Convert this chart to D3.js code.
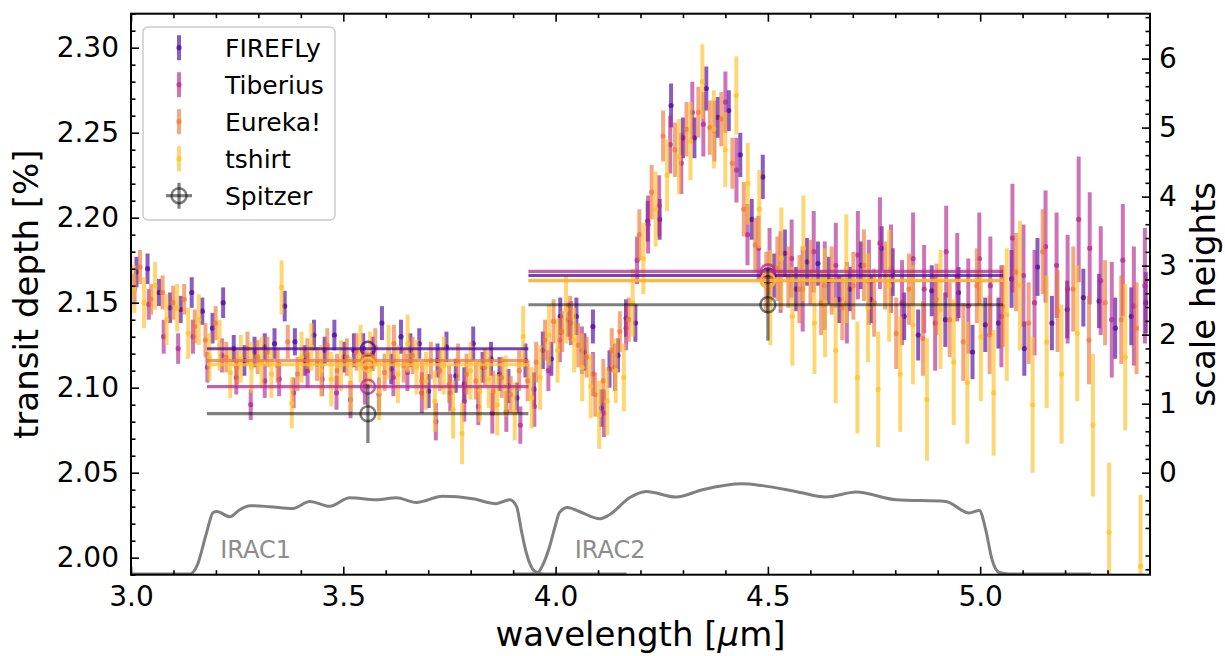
<!DOCTYPE html>
<html><head><meta charset="utf-8">
<script src="https://cdn.jsdelivr.net/npm/d3@7"></script>
<style>body{margin:0;background:#fff} svg{display:block} text{font-family:"DejaVu Sans",sans-serif}</style>
</head><body><svg id="c" width="1225" height="656"></svg>
<script>
// ---------------- DATA ----------------
const seriesNames = ["FIREFLy","Tiberius","Eureka!","tshirt"];
const seriesColors = ["#4c06a0","#b12a90","#f0783c","#fdc22a"];

// FIREFLy
const wlF = [3.013,3.039,3.066,3.092,3.117,3.143,3.168,3.192,3.217,3.242,
3.267,3.291,3.315,3.338,3.362,3.386,3.409,3.431,3.456,3.479,
3.502,3.525,3.547,3.569,3.591,3.613,3.636,3.658,3.679,3.701,
3.722,3.743,3.765,3.785,3.806,3.828,3.848,3.868,3.889,3.909,
3.929,3.949,3.970,3.990,4.011,4.030,4.049,4.068,4.088,4.108,
4.127,4.147,4.166,4.188,4.217,4.245,4.272,4.300,4.327,4.355,
4.382,4.408,4.435,4.462,4.488,4.515,4.540,4.566,4.592,4.618,
4.643,4.668,4.693,4.719,4.743,4.768,4.794,4.821,4.854,4.886,
4.918,4.949,4.982,5.012,5.043,5.074,5.104,5.135,5.169,5.205,
5.243,5.280,5.318,5.356,5.390];
const dF = [2.168,2.170,2.156,2.147,2.146,2.156,2.145,2.135,2.150,2.123,
2.116,2.121,2.124,2.126,2.148,2.127,2.116,2.131,2.122,2.131,
2.118,2.122,2.123,2.120,2.138,2.111,2.130,2.122,2.126,2.098,
2.116,2.124,2.107,2.102,2.126,2.112,2.117,2.108,2.101,2.094,
2.116,2.099,2.122,2.117,2.142,2.140,2.142,2.121,2.136,2.088,
2.111,2.119,2.141,2.138,2.198,2.199,2.266,2.247,2.247,2.276,
2.259,2.263,2.237,2.199,2.224,2.166,2.179,2.158,2.174,2.173,
2.163,2.152,2.158,2.172,2.152,2.182,2.168,2.142,2.131,2.157,
2.140,2.156,2.121,2.137,2.138,2.164,2.123,2.171,2.138,2.146,
2.153,2.151,2.135,2.142,2.150];
const eF = [0.009,0.009,0.008,0.009,0.008,0.009,0.008,0.009,0.009,0.008,
0.009,0.009,0.008,0.009,0.009,0.008,0.009,0.009,0.008,0.009,
0.009,0.010,0.009,0.010,0.010,0.009,0.010,0.010,0.009,0.010,
0.010,0.009,0.010,0.010,0.010,0.009,0.010,0.010,0.010,0.009,
0.010,0.010,0.011,0.010,0.011,0.010,0.011,0.011,0.010,0.011,
0.011,0.010,0.011,0.011,0.012,0.012,0.013,0.012,0.012,0.013,
0.012,0.012,0.013,0.012,0.013,0.013,0.014,0.013,0.014,0.013,
0.014,0.014,0.013,0.014,0.014,0.013,0.014,0.014,0.015,0.015,
0.016,0.015,0.016,0.016,0.015,0.017,0.016,0.017,0.016,0.017,
0.017,0.016,0.018,0.017,0.018];

// Tiberius
const wlT = [3.008,3.042,3.077,3.111,3.146,3.180,3.214,3.248,3.282,3.315,
3.349,3.383,3.416,3.450,3.484,3.517,3.551,3.584,3.618,3.651,
3.685,3.718,3.752,3.785,3.818,3.851,3.884,3.917,3.950,3.983,
4.010,4.036,4.062,4.088,4.114,4.140,4.166,4.192,4.218,4.244,
4.270,4.296,4.322,4.348,4.374,4.400,4.426,4.452,4.478,4.504,
4.530,4.556,4.582,4.608,4.634,4.660,4.686,4.712,4.738,4.764,
4.790,4.816,4.842,4.868,4.894,4.920,4.946,4.972,4.998,5.024,
5.050,5.076,5.102,5.128,5.154,5.180,5.206,5.232,5.258,5.284,
5.310,5.336,5.362,5.388];
const dT = [2.158,2.149,2.130,2.123,2.130,2.112,2.119,2.106,2.090,2.104,
2.105,2.097,2.110,2.105,2.097,2.093,2.101,2.096,2.106,2.109,
2.097,2.080,2.097,2.092,2.089,2.085,2.086,2.078,2.089,2.110,
2.128,2.138,2.122,2.108,2.085,2.112,2.135,2.175,2.196,2.207,
2.243,2.232,2.262,2.255,2.251,2.268,2.228,2.190,2.182,2.172,
2.168,2.176,2.158,2.180,2.160,2.172,2.150,2.178,2.162,2.185,
2.170,2.150,2.176,2.158,2.138,2.180,2.165,2.148,2.176,2.160,
2.142,2.188,2.166,2.150,2.183,2.172,2.158,2.199,2.182,2.163,
2.140,2.175,2.148,2.160];
const eT = [0.009,0.009,0.010,0.009,0.010,0.009,0.010,0.010,0.009,0.010,
0.010,0.009,0.010,0.010,0.010,0.011,0.011,0.010,0.011,0.011,
0.012,0.011,0.011,0.012,0.011,0.012,0.012,0.011,0.012,0.012,
0.013,0.013,0.014,0.013,0.014,0.014,0.013,0.014,0.017,0.018,
0.017,0.018,0.018,0.019,0.018,0.018,0.019,0.018,0.019,0.022,
0.024,0.023,0.025,0.024,0.026,0.025,0.024,0.026,0.025,0.027,
0.026,0.025,0.027,0.026,0.028,0.027,0.026,0.028,0.027,0.029,
0.030,0.032,0.030,0.031,0.033,0.031,0.032,0.037,0.033,0.032,
0.034,0.033,0.035,0.034];

// Eureka! and tshirt share bin centres
const wlB = [3.003,3.026,3.052,3.079,3.104,3.130,3.155,3.180,3.204,3.229,
3.254,3.279,3.303,3.326,3.350,3.374,3.397,3.420,3.443,3.467,
3.490,3.513,3.536,3.558,3.580,3.602,3.624,3.647,3.668,3.690,
3.711,3.732,3.754,3.775,3.795,3.817,3.838,3.858,3.878,3.899,
3.919,3.939,3.959,3.980,4.000,4.020,4.039,4.058,4.078,4.098,
4.117,4.137,4.156,4.177,4.202,4.231,4.258,4.286,4.313,4.341,
4.368,4.395,4.421,4.448,4.475,4.501,4.527,4.553,4.579,4.605,
4.630,4.655,4.680,4.706,4.731,4.755,4.781,4.807,4.837,4.870,
4.902,4.933,4.965,4.997,5.027,5.058,5.089,5.119,5.152,5.187,
5.224,5.261,5.299,5.337,5.373];
const dE = [2.163,2.171,2.152,2.156,2.150,2.152,2.136,2.128,2.138,2.118,
2.112,2.123,2.118,2.121,2.113,2.127,2.108,2.120,2.114,2.125,
2.110,2.118,2.121,2.112,2.124,2.109,2.126,2.113,2.119,2.104,
2.116,2.110,2.102,2.115,2.108,2.104,2.112,2.098,2.106,2.096,
2.110,2.104,2.115,2.128,2.139,2.133,2.141,2.125,2.118,2.096,
2.104,2.122,2.133,2.140,2.190,2.215,2.248,2.240,2.252,2.262,
2.253,2.258,2.232,2.205,2.184,2.162,2.170,2.165,2.158,2.168,
2.150,2.163,2.147,2.160,2.172,2.150,2.166,2.132,2.158,2.129,
2.152,2.140,2.127,2.160,2.131,2.148,2.168,2.138,2.180,2.145,
2.158,2.128,2.150,2.140,2.135];
const eE = [0.010,0.010,0.009,0.010,0.010,0.009,0.010,0.010,0.010,0.009,
0.010,0.010,0.010,0.009,0.010,0.010,0.010,0.009,0.010,0.010,
0.010,0.011,0.011,0.010,0.011,0.011,0.011,0.010,0.011,0.011,
0.011,0.012,0.011,0.011,0.012,0.011,0.011,0.012,0.012,0.011,
0.012,0.012,0.012,0.012,0.013,0.012,0.013,0.013,0.012,0.013,
0.013,0.013,0.012,0.013,0.015,0.016,0.015,0.016,0.016,0.015,
0.016,0.016,0.015,0.016,0.016,0.018,0.019,0.018,0.020,0.019,
0.019,0.020,0.019,0.020,0.021,0.020,0.020,0.021,0.021,0.022,
0.021,0.022,0.023,0.022,0.023,0.024,0.023,0.024,0.025,0.024,
0.025,0.026,0.025,0.026,0.027];
const dS = [2.158,2.150,2.160,2.140,2.147,2.132,2.140,2.118,2.125,2.109,
2.117,2.112,2.115,2.108,2.159,2.091,2.118,2.124,2.110,2.105,
2.113,2.102,2.120,2.117,2.098,2.121,2.108,2.126,2.112,2.104,
2.092,2.113,2.087,2.073,2.110,2.098,2.105,2.090,2.101,2.086,
2.130,2.094,2.106,2.131,2.122,2.146,2.128,2.112,2.101,2.084,
2.092,2.110,2.106,2.150,2.176,2.205,2.225,2.236,2.245,2.280,
2.252,2.240,2.272,2.220,2.205,2.153,2.176,2.142,2.182,2.138,
2.150,2.122,2.170,2.106,2.147,2.099,2.160,2.108,2.137,2.093,
2.146,2.115,2.103,2.130,2.097,2.143,2.160,2.090,2.127,2.108,
2.132,2.078,2.015,2.118,1.995];
const eS = [0.014,0.015,0.014,0.015,0.014,0.015,0.015,0.014,0.015,0.015,
0.014,0.015,0.015,0.014,0.016,0.015,0.015,0.014,0.015,0.016,
0.015,0.016,0.017,0.016,0.017,0.016,0.017,0.017,0.016,0.017,
0.018,0.017,0.017,0.018,0.017,0.018,0.017,0.018,0.018,0.017,
0.018,0.018,0.019,0.018,0.019,0.020,0.019,0.020,0.019,0.020,
0.020,0.019,0.020,0.020,0.021,0.022,0.021,0.022,0.023,0.022,
0.023,0.022,0.023,0.024,0.023,0.028,0.030,0.029,0.031,0.030,
0.032,0.031,0.032,0.033,0.032,0.034,0.033,0.034,0.035,0.036,
0.035,0.037,0.036,0.038,0.037,0.039,0.038,0.040,0.039,0.041,
0.040,0.042,0.041,0.043,0.042];

// Band-integrated values (IRAC1, IRAC2)
const bandNames = ["IRAC1","IRAC2"];
const bandLo = [3.179, 3.936];
const bandHi = [3.936, 5.054];
const bandCentre = [3.558, 4.500];
const bandF = [2.1229, 2.1660];
const bandT = [2.1006, 2.1684];
const bandE = [2.1159, 2.1629];
const bandS = [2.1135, 2.1631];
const spitzer = [2.0847, 2.1488];
const spitzerErr = [0.0173, 0.0211];

// IRAC response curves (drawn in transit-depth units)
const irac1Wl = [3.000,3.139,3.155,3.178,3.193,3.202,3.233,3.256,3.280,3.327,3.381,3.421,3.468,3.515,3.578,3.625,3.672,3.734,3.805,3.860,3.892,3.908,3.919,3.931,3.951,3.974,4.167];
const irac1D  = [1.9904,1.9904,1.9950,2.0147,2.0265,2.0272,2.0241,2.0282,2.0306,2.0300,2.0290,2.0331,2.0302,2.0353,2.0341,2.0353,2.0325,2.0361,2.0347,2.0318,2.0341,2.0302,2.0165,2.0029,1.9920,1.9904,1.9904];
const irac2Wl = [3.900,3.955,3.969,3.986,4.000,4.009,4.028,4.056,4.104,4.127,4.174,4.213,4.284,4.346,4.440,4.487,4.566,4.637,4.708,4.802,4.919,4.974,4.998,5.013,5.028,5.045,5.068,5.261];
const irac2D  = [1.9904,1.9906,1.9953,2.0066,2.0194,2.0265,2.0296,2.0272,2.0229,2.0253,2.0353,2.0390,2.0357,2.0400,2.0435,2.0424,2.0390,2.0357,2.0386,2.0341,2.0331,2.0263,2.0278,2.0165,1.9988,1.9913,1.9904,1.9904];
const bandLabelWl = [3.21, 4.045];
const bandLabelD = [2.0,2.0];

// Axis ticks
const xMajor = [3.0,3.5,4.0,4.5,5.0];
const yMajor = [2.00,2.05,2.10,2.15,2.20,2.25,2.30];
const hMajor = [0,1,2,3,4,5,6];
const H0 = 2.05, dH = 0.0406; // 0 scale heights at 2.05 %, one scale height = 0.0406 %

// ---------------- DRAW ----------------
const svg = d3.select('#c');
const L=131,R=1150,T=13.7,B=574.7;
const x = d3.scaleLinear().domain([3.0,5.4]).range([L,R]);
const y = d3.scaleLinear().domain([1.99,2.32]).range([B,T]);
const yH = d3.scaleLinear().domain([(1.99-H0)/dH,(2.32-H0)/dH]).range([B,T]);

svg.append('defs').append('clipPath').attr('id','clip')
  .append('rect').attr('x',L).attr('y',T).attr('width',R-L).attr('height',B-T);
const plot = svg.append('g').attr('clip-path','url(#clip)');

// IRAC curves
const line = d3.line().x(d=>x(d[0])).y(d=>y(d[1])).curve(d3.curveMonotoneX);
[[irac1Wl,irac1D],[irac2Wl,irac2D]].forEach(([w,d])=>{
  plot.append('path').attr('d',line(w.map((v,i)=>[v,d[i]])))
    .attr('fill','none').attr('stroke','#808080').attr('stroke-width',3);
});
bandNames.forEach((n,i)=>{
  svg.append('text').attr('x',x(bandLabelWl[i])).attr('y',y(bandLabelD[i])).text(n)
    .attr('font-size',24).attr('fill','#8c8c8c');
});

// spectra
const series = [
  {wl:wlF,d:dF,e:eF,dx:0},
  {wl:wlT,d:dT,e:eT,dx:0},
  {wl:wlB,d:dE,e:eE,dx:-2},
  {wl:wlB,d:dS,e:eS,dx:2}
];
series.forEach((s,k)=>{
  const g = plot.append('g');
  const idx = d3.range(s.wl.length);
  g.selectAll('line').data(idx).join('line')
    .attr('x1',i=>x(s.wl[i])+s.dx).attr('x2',i=>x(s.wl[i])+s.dx)
    .attr('y1',i=>y(s.d[i]-s.e[i])).attr('y2',i=>y(s.d[i]+s.e[i]))
    .attr('stroke',seriesColors[k]).attr('stroke-width',4).attr('stroke-opacity',0.65);
  g.selectAll('circle').data(idx).join('circle')
    .attr('cx',i=>x(s.wl[i])+s.dx).attr('cy',i=>y(s.d[i]))
    .attr('r',2.6).attr('fill',seriesColors[k]).attr('fill-opacity',0.75);
});

// band-integrated lines
const bandVals = [bandF,bandT,bandE,bandS];
bandVals.forEach((bv,k)=>{
  bandNames.forEach((n,i)=>{
    plot.append('line').attr('x1',x(bandLo[i])).attr('x2',x(bandHi[i]))
      .attr('y1',y(bv[i])).attr('y2',y(bv[i]))
      .attr('stroke',seriesColors[k]).attr('stroke-width',3.2).attr('stroke-opacity',0.75);
    plot.append('circle').attr('cx',x(bandCentre[i])).attr('cy',y(bv[i])).attr('r',7)
      .attr('fill','none').attr('stroke',seriesColors[k]).attr('stroke-width',2.5).attr('stroke-opacity',0.75);
  });
});
// Spitzer
bandNames.forEach((n,i)=>{
  const g = plot.append('g').attr('stroke','#000').attr('stroke-opacity',0.5);
  g.append('line').attr('x1',x(bandLo[i])).attr('x2',x(bandHi[i])).attr('y1',y(spitzer[i])).attr('y2',y(spitzer[i])).attr('stroke-width',3.2);
  g.append('line').attr('x1',x(bandCentre[i])).attr('x2',x(bandCentre[i]))
    .attr('y1',y(spitzer[i]-spitzerErr[i])).attr('y2',y(spitzer[i]+spitzerErr[i])).attr('stroke-width',3.2);
  g.append('circle').attr('cx',x(bandCentre[i])).attr('cy',y(spitzer[i])).attr('r',7.5)
    .attr('fill','none').attr('stroke-width',2.5);
});

// axes
function style(g, labels){
  g.attr('font-family','DejaVu Sans').attr('font-size',28);
  g.select('.domain').remove();
  g.selectAll('.tick line').attr('stroke','#000').attr('stroke-width',1.6);
  g.selectAll('.tick text').attr('fill','#000');
}
const xMinor = d3.range(30,54).map(v=>v/10).filter(v=>Math.abs(v*2-Math.round(v*2))>1e-6);
const yMinor = d3.range(199,233).map(v=>v/100).filter(v=>Math.abs(v*20-Math.round(v*20))>1e-6);
const hMinor = d3.range(-7,34).map(v=>v/5).filter(v=>Math.abs(v-Math.round(v))>1e-6);

svg.append('g').attr('transform',`translate(0,${B})`)
  .call(d3.axisBottom(x).tickValues(xMajor).tickFormat(d3.format('.1f')).tickSizeInner(-8).tickSizeOuter(0).tickPadding(11)).call(style);
svg.append('g').attr('transform',`translate(0,${B})`)
  .call(d3.axisBottom(x).tickValues(xMinor).tickFormat('').tickSizeInner(-4.5).tickSizeOuter(0)).call(style);
svg.append('g').attr('transform',`translate(0,${T})`)
  .call(d3.axisTop(x).tickValues(xMajor).tickFormat('').tickSizeInner(-8).tickSizeOuter(0)).call(style);
svg.append('g').attr('transform',`translate(0,${T})`)
  .call(d3.axisTop(x).tickValues(xMinor).tickFormat('').tickSizeInner(-4.5).tickSizeOuter(0)).call(style);
svg.append('g').attr('transform',`translate(${L},0)`)
  .call(d3.axisLeft(y).tickValues(yMajor).tickFormat(d3.format('.2f')).tickSizeInner(-8).tickSizeOuter(0).tickPadding(12)).call(style);
svg.append('g').attr('transform',`translate(${L},0)`)
  .call(d3.axisLeft(y).tickValues(yMinor).tickFormat('').tickSizeInner(-4.5).tickSizeOuter(0)).call(style);
svg.append('g').attr('transform',`translate(${R},0)`)
  .call(d3.axisRight(yH).tickValues(hMajor).tickFormat(d3.format('d')).tickSizeInner(-8).tickSizeOuter(0).tickPadding(9)).call(style);
svg.append('g').attr('transform',`translate(${R},0)`)
  .call(d3.axisRight(yH).tickValues(hMinor).tickFormat('').tickSizeInner(-4.5).tickSizeOuter(0)).call(style);

svg.append('rect').attr('x',L).attr('y',T).attr('width',R-L).attr('height',B-T)
  .attr('fill','none').attr('stroke','#000').attr('stroke-width',2);

// axis labels
svg.append('text').attr('transform',`translate(38,${(T+B)/2}) rotate(-90)`).attr('text-anchor','middle')
  .attr('font-size',34).text('transit depth [%]');
svg.append('text').attr('transform',`translate(1215,${(T+B)/2}) rotate(-90)`).attr('text-anchor','middle')
  .attr('font-size',34).text('scale heights');
const xl = svg.append('text').attr('x',(L+R)/2).attr('y',646).attr('text-anchor','middle').attr('font-size',34);
xl.append('tspan').text('wavelength [');
xl.append('tspan').attr('font-style','italic').text('μ');
xl.append('tspan').text('m]');

// legend
const lg = svg.append('g');
lg.append('rect').attr('x',143).attr('y',27).attr('width',192).attr('height',193).attr('rx',5)
  .attr('fill','#fff').attr('fill-opacity',0.8).attr('stroke','#cccccc').attr('stroke-width',1.5);
const rows = [47.7,84.7,121.7,158.7,195.7];
seriesNames.forEach((n,k)=>{
  lg.append('line').attr('x1',179).attr('x2',179).attr('y1',rows[k]-12.5).attr('y2',rows[k]+12.5)
    .attr('stroke',seriesColors[k]).attr('stroke-width',4).attr('stroke-opacity',0.65);
  lg.append('circle').attr('cx',179).attr('cy',rows[k]).attr('r',2.6).attr('fill',seriesColors[k]).attr('fill-opacity',0.75);
  lg.append('text').attr('x',225).attr('y',rows[k]+9).attr('font-size',25).text(n);
});
const sp = lg.append('g').attr('stroke','#000').attr('stroke-opacity',0.5);
sp.append('line').attr('x1',166).attr('x2',192).attr('y1',rows[4]).attr('y2',rows[4]).attr('stroke-width',3.2);
sp.append('line').attr('x1',179).attr('x2',179).attr('y1',rows[4]-13).attr('y2',rows[4]+13).attr('stroke-width',3.2);
sp.append('circle').attr('cx',179).attr('cy',rows[4]).attr('r',7.5).attr('fill','none').attr('stroke-width',2.5);
lg.append('text').attr('x',225).attr('y',rows[4]+9).attr('font-size',25).text('Spitzer');
</script></body></html>
